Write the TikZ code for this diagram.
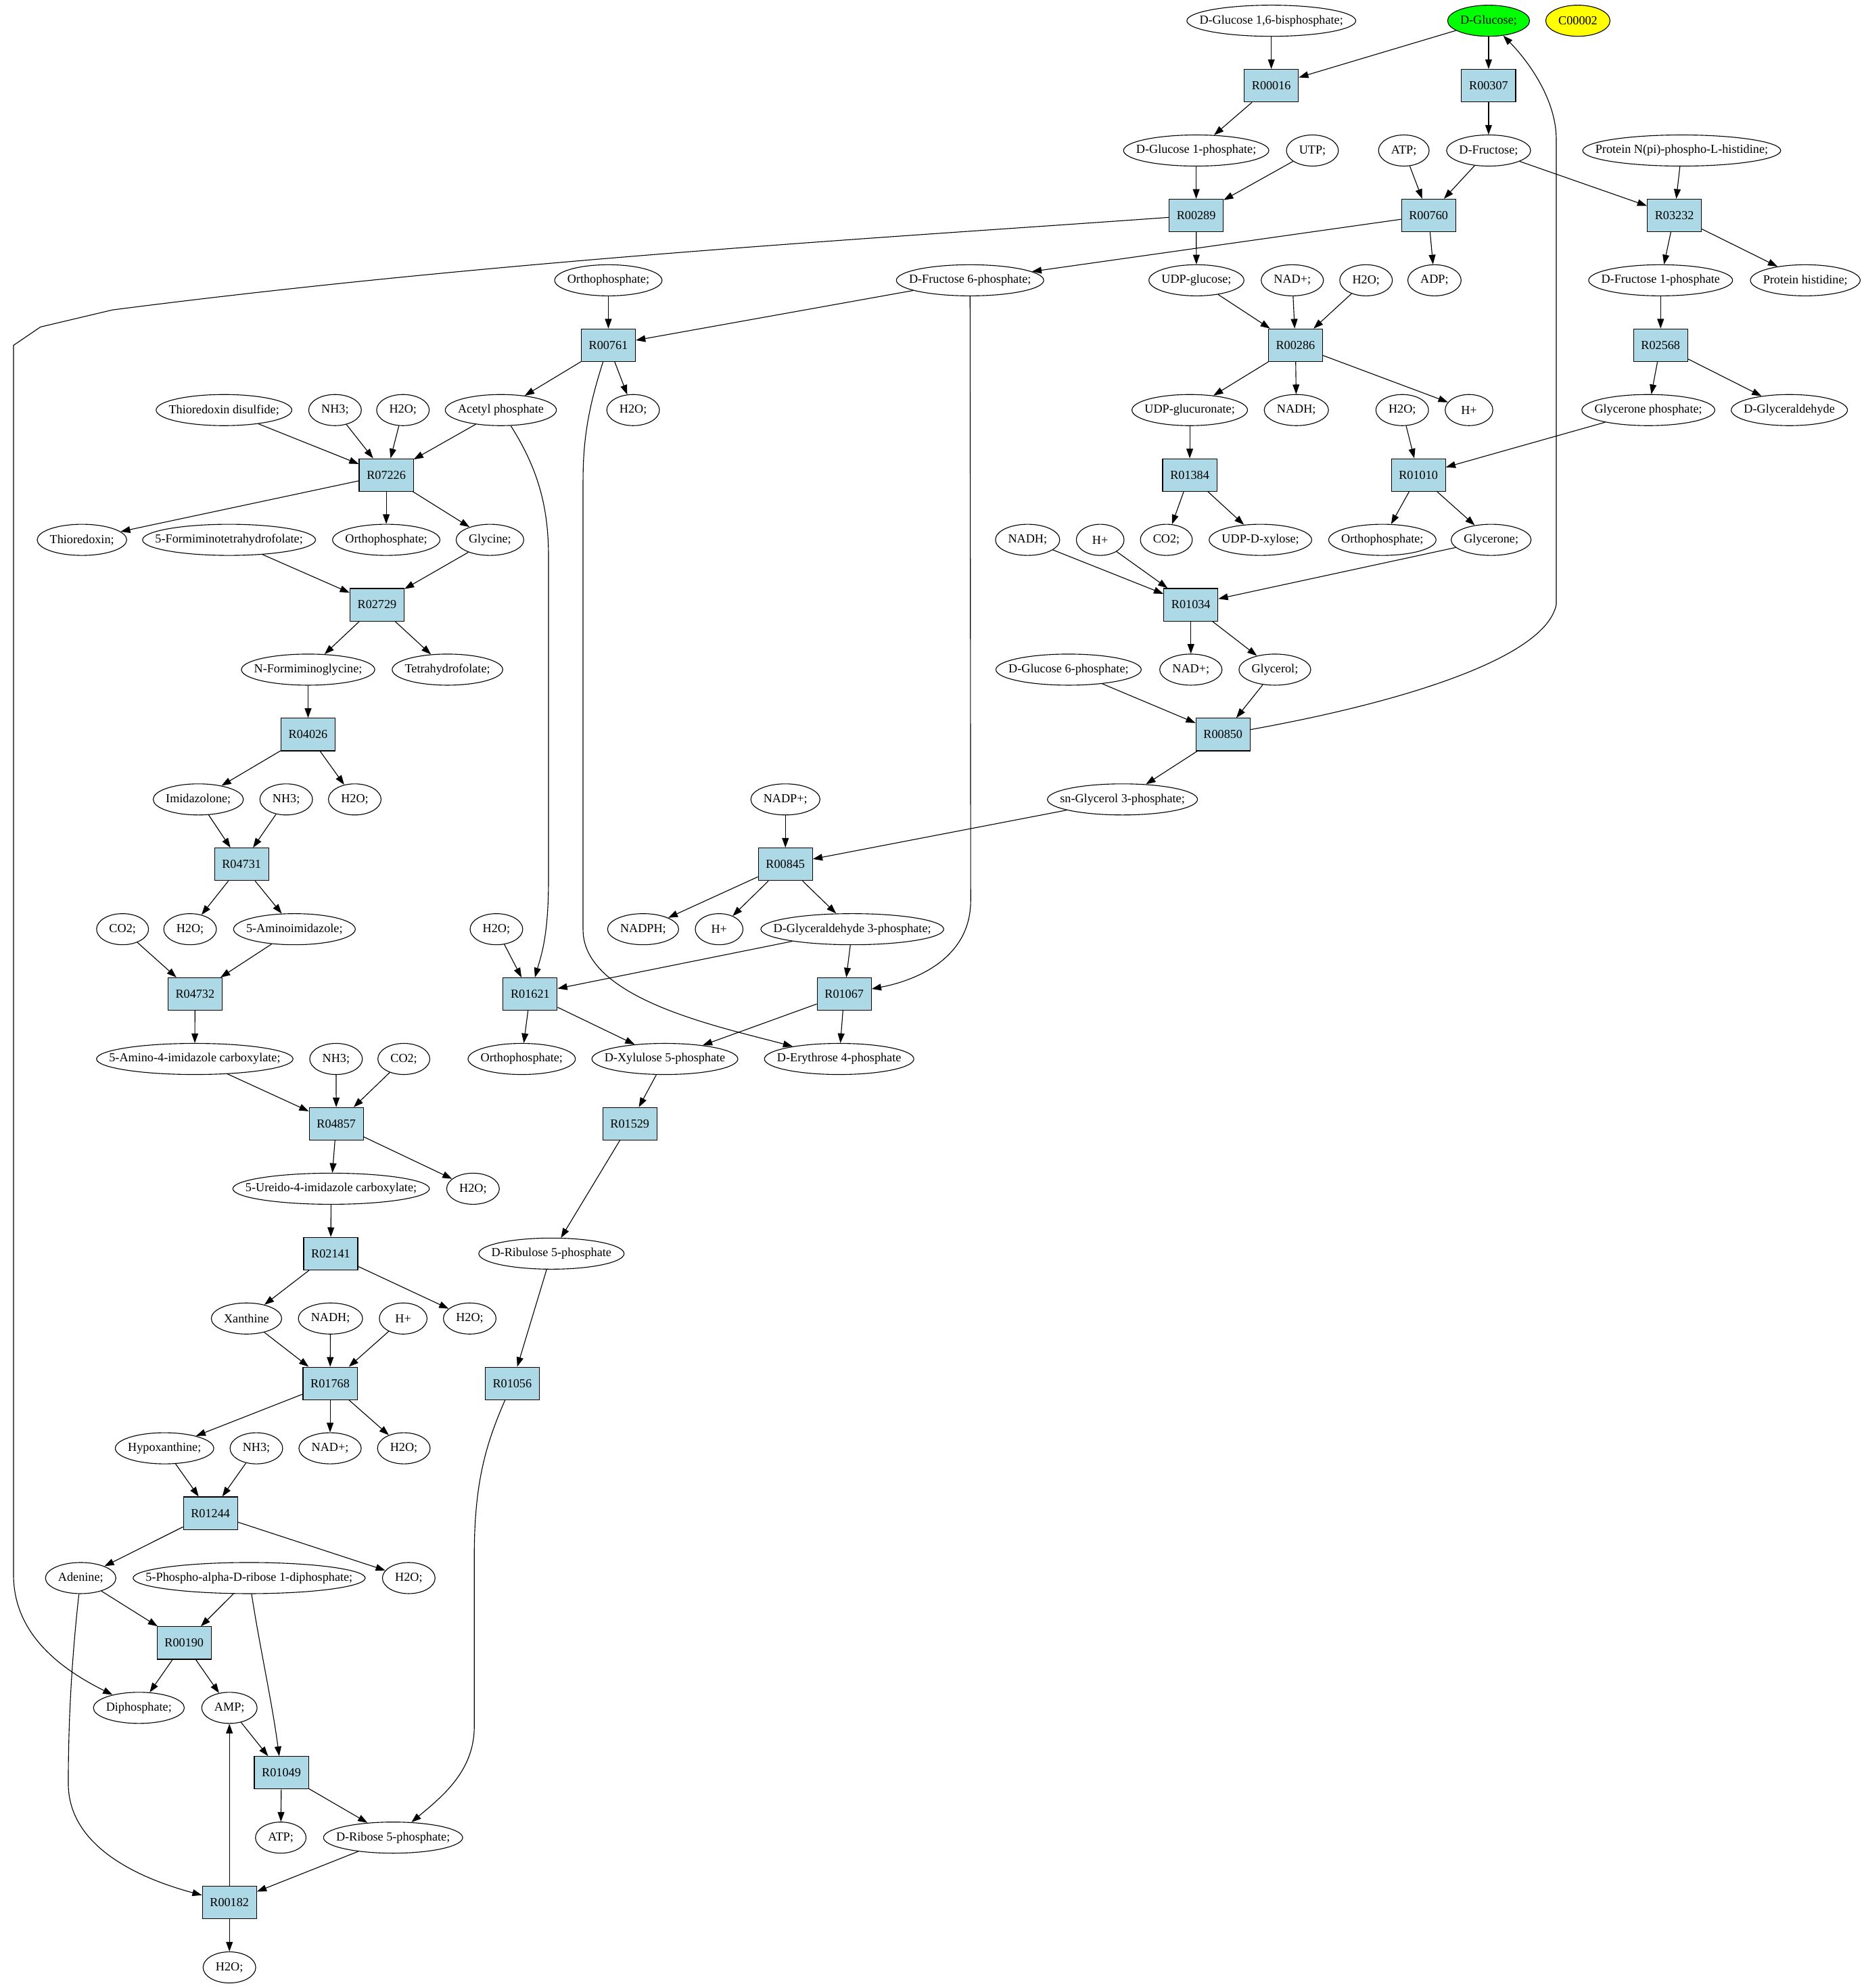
\documentclass[tikz,border=0pt]{standalone}
\usepackage{fontspec}
\setmainfont{Liberation Serif}
\usepackage{tikz}
\usepackage{xcolor}
\usetikzlibrary{arrows.meta}
\usetikzlibrary{shapes.geometric}
\font\cpdfont="Liberation Serif" at 7.3pt
\newlength{\cpdlen}
\newcommand{\cpd}[4][]{%
	\settowidth{\cpdlen}{\cpdfont #4}%
	\addtolength{\cpdlen}{15pt}%
	\ifdim\cpdlen<28.3pt \setlength{\cpdlen}{28.3pt}\fi
	\node [cpd,minimum width=\cpdlen,#1] (#2) at (#3) {\makebox[0pt]{#4}};}

\begin{document}
\begin{tikzpicture}[x=0.75pt,y=0.75pt,yscale=-1,xscale=1,line width=0.45pt,
	cpd/.style={ellipse,draw,inner sep=0pt,minimum height=18.45pt,font=\cpdfont},
	rxn/.style={rectangle,draw,fill={rgb, 255:red, 173; green, 216; blue, 230 },inner xsep=4.5pt,inner ysep=0pt,minimum height=19.3pt,font=\cpdfont},
	arr/.style={-{Triangle[length=5.7pt,width=4pt]}}]
	%set diagram to the size of the reference
	\useasboundingbox (0,0) rectangle (1473.8,1571.7);

	%Shape: Ellipse [compounds, top to bottom]
	\cpd{glc16bp}{1005.2,16.4}{D-Glucose 1,6-bisphosphate;}
	\cpd[fill={rgb, 255:red, 0; green, 255; blue, 0 }]{glc}{1177,16.4}{D-Glucose;}
	\cpd[fill={rgb, 255:red, 255; green, 255; blue, 0 }]{c00002}{1247.6,16.4}{C00002}
	\cpd{glc1p}{945.8,119}{D-Glucose 1-phosphate;}
	\cpd{utp}{1037.7,119}{UTP;}
	\cpd{atp}{1110,119}{ATP;}
	\cpd{fru}{1177,119}{D-Fructose;}
	\cpd{protnph}{1329.7,119}{Protein N(pi)-phospho-L-histidine;}
	\cpd{pi1}{481,221.6}{Orthophosphate;}
	\cpd{f6p}{767,221.6}{D-Fructose 6-phosphate;}
	\cpd{udpglc}{946,221.6}{UDP-glucose;}
	\cpd{nad1}{1021.8,221.6}{NAD+;}
	\cpd{h2o1}{1080.1,221.6}{H2O;}
	\cpd{adp}{1134.2,221.6}{ADP;}
	\cpd{f1p}{1313,221.6}{D-Fructose 1-phosphate}
	\cpd{prothis}{1427.4,221.6}{Protein histidine;}
	\cpd{trxss}{177.1,324.2}{Thioredoxin disulfide;}
	\cpd{nh3a}{264.9,324.2}{NH3;}
	\cpd{h2o2}{318.6,324.2}{H2O;}
	\cpd{acp}{396,324.2}{Acetyl phosphate}
	\cpd{h2o3}{500.6,324.2}{H2O;}
	\cpd{udpglca}{940.7,324.2}{UDP-glucuronate;}
	\cpd{nadh1}{1025,324.2}{NADH;}
	\cpd{h2o4}{1108.7,324.2}{H2O;}
	\cpd{hp1}{1161.5,324.2}{H+}
	\cpd{dhap}{1303.3,324.2}{Glycerone phosphate;}
	\cpd{glyald}{1414.8,324.2}{D-Glyceraldehyde}
	\cpd{trx}{64.8,426.8}{Thioredoxin;}
	\cpd{fthf}{181.1,426.8}{5-Formiminotetrahydrofolate;}
	\cpd{pi2}{305.4,426.8}{Orthophosphate;}
	\cpd{gly}{387.4,426.8}{Glycine;}
	\cpd{nadh2}{812.5,426.8}{NADH;}
	\cpd{hp2}{869.9,426.8}{H+}
	\cpd{co2a}{922.2,426.8}{CO2;}
	\cpd{udpxyl}{996.6,426.8}{UDP-D-xylose;}
	\cpd{pi3}{1093,426.8}{Orthophosphate;}
	\cpd{dha}{1179,426.8}{Glycerone;}
	\cpd{figly}{243.6,529.4}{N-Formiminoglycine;}
	\cpd{thf}{353.8,529.4}{Tetrahydrofolate;}
	\cpd{g6p}{844.9,529.4}{D-Glucose 6-phosphate;}
	\cpd{nad2}{941.6,529.4}{NAD+;}
	\cpd{glyc}{1008,529.4}{Glycerol;}
	\cpd{imz}{156.8,632}{Imidazolone;}
	\cpd{nh3b}{226.3,632}{NH3;}
	\cpd{h2o5}{280.5,632}{H2O;}
	\cpd{nadp}{621,632}{NADP+;}
	\cpd{g3p}{887.5,632}{sn-Glycerol 3-phosphate;}
	\cpd{co2b}{96.9,734.6}{CO2;}
	\cpd{h2o6}{150.3,734.6}{H2O;}
	\cpd{air}{232.8,734.6}{5-Aminoimidazole;}
	\cpd{h2o7}{392.5,734.6}{H2O;}
	\cpd{nadph}{508.5,734.6}{NADPH;}
	\cpd{hp3}{568.6,734.6}{H+}
	\cpd{gap}{673.9,734.6}{D-Glyceraldehyde 3-phosphate;}
	\cpd{aica}{154,837.2}{5-Amino-4-imidazole carboxylate;}
	\cpd{nh3c}{265.7,837.2}{NH3;}
	\cpd{co2c}{319.3,837.2}{CO2;}
	\cpd{pi4}{412.5,837.2}{Orthophosphate;}
	\cpd{xu5p}{525.7,837.2}{D-Xylulose 5-phosphate}
	\cpd{e4p}{663.5,837.2}{D-Erythrose 4-phosphate}
	\cpd{uica}{261.8,939.8}{5-Ureido-4-imidazole carboxylate;}
	\cpd{h2o8}{374,939.8}{H2O;}
	\cpd{ru5p}{436,991.1}{D-Ribulose 5-phosphate}
	\cpd{xan}{194.9,1042.4}{Xanthine}
	\cpd{nadh3}{261.3,1042.4}{NADH;}
	\cpd{hp4}{318.8,1042.4}{H+}
	\cpd{h2o9}{371.4,1042.4}{H2O;}
	\cpd{hyx}{130.1,1145}{Hypoxanthine;}
	\cpd{nh3d}{202.7,1145}{NH3;}
	\cpd{nad3}{261,1145}{NAD+;}
	\cpd{h2o10}{319.3,1145}{H2O;}
	\cpd{ade}{63.8,1247.6}{Adenine;}
	\cpd{prpp}{197,1247.6}{5-Phospho-alpha-D-ribose 1-diphosphate;}
	\cpd{h2o11}{323.2,1247.6}{H2O;}
	\cpd{ppi}{109.8,1350.2}{Diphosphate;}
	\cpd{amp}{181.4,1350.2}{AMP;}
	\cpd{atp2}{222,1452.8}{ATP;}
	\cpd{r5p}{310.8,1452.8}{D-Ribose 5-phosphate;}
	\cpd{h2o12}{181.4,1555.4}{H2O;}

	%Shape: Rectangle [reactions]
	\node [rxn] (r00016) at (1005.2,67.7) {R00016};
	\node [rxn] (r00307) at (1177,67.7) {R00307};
	\node [rxn] (r00289) at (945.8,170.3) {R00289};
	\node [rxn] (r00760) at (1129.5,170.3) {R00760};
	\node [rxn] (r03232) at (1323.9,170.3) {R03232};
	\node [rxn] (r00761) at (481,272.9) {R00761};
	\node [rxn] (r00286) at (1024.3,272.9) {R00286};
	\node [rxn] (r02568) at (1313,272.9) {R02568};
	\node [rxn] (r07226) at (305.4,375.5) {R07226};
	\node [rxn] (r01384) at (940.7,375.5) {R01384};
	\node [rxn] (r01010) at (1121.5,375.5) {R01010};
	\node [rxn] (r02729) at (298.1,478.1) {R02729};
	\node [rxn] (r01034) at (941.6,478.1) {R01034};
	\node [rxn] (r04026) at (243.6,580.7) {R04026};
	\node [rxn] (r00850) at (967,580.7) {R00850};
	\node [rxn] (r04731) at (191,683.3) {R04731};
	\node [rxn] (r00845) at (621,683.3) {R00845};
	\node [rxn] (r04732) at (154.2,785.9) {R04732};
	\node [rxn] (r01621) at (419.2,785.9) {R01621};
	\node [rxn] (r01067) at (667.5,785.9) {R01067};
	\node [rxn] (r04857) at (265.9,888.5) {R04857};
	\node [rxn] (r01529) at (498,888.5) {R01529};
	\node [rxn] (r02141) at (261.5,991.1) {R02141};
	\node [rxn] (r01768) at (261,1093.7) {R01768};
	\node [rxn] (r01056) at (405,1093.7) {R01056};
	\node [rxn] (r01244) at (166.4,1196.3) {R01244};
	\node [rxn] (r00190) at (145.6,1298.9) {R00190};
	\node [rxn] (r01049) at (222.5,1401.5) {R01049};
	\node [rxn] (r00182) at (181.4,1504.1) {R00182};

	%Straight Lines
	\draw [arr] (glc16bp) -- (r00016) ;
	\draw [arr] (glc) -- (r00016) ;
	\draw [arr] (glc) -- (r00307) ;
	\draw [arr] (r00016) -- (glc1p) ;
	\draw [arr] (r00307) -- (fru) ;
	\draw [arr] (glc1p) -- (r00289) ;
	\draw [arr] (utp) -- (r00289) ;
	\draw [arr] (atp) -- (r00760) ;
	\draw [arr] (fru) -- (r00760) ;
	\draw [arr] (fru) -- (r03232) ;
	\draw [arr] (protnph) -- (r03232) ;
	\draw [arr] (r00289) -- (udpglc) ;
	\draw [arr] (r00760) -- (f6p) ;
	\draw [arr] (r00760) -- (adp) ;
	\draw [arr] (r03232) -- (f1p) ;
	\draw [arr] (r03232) -- (prothis) ;
	\draw [arr] (pi1) -- (r00761) ;
	\draw [arr] (f6p) -- (r00761) ;
	\draw [arr] (udpglc) -- (r00286) ;
	\draw [arr] (nad1) -- (r00286) ;
	\draw [arr] (h2o1) -- (r00286) ;
	\draw [arr] (f1p) -- (r02568) ;
	\draw [arr] (r00761) -- (acp) ;
	\draw [arr] (r00761) -- (h2o3) ;
	\draw [arr] (r00286) -- (udpglca) ;
	\draw [arr] (r00286) -- (nadh1) ;
	\draw [arr] (r00286) -- (hp1) ;
	\draw [arr] (r02568) -- (dhap) ;
	\draw [arr] (r02568) -- (glyald) ;
	\draw [arr] (trxss) -- (r07226) ;
	\draw [arr] (nh3a) -- (r07226) ;
	\draw [arr] (h2o2) -- (r07226) ;
	\draw [arr] (acp) -- (r07226) ;
	\draw [arr] (udpglca) -- (r01384) ;
	\draw [arr] (h2o4) -- (r01010) ;
	\draw [arr] (dhap) -- (r01010) ;
	\draw [arr] (r07226) -- (trx) ;
	\draw [arr] (r07226) -- (pi2) ;
	\draw [arr] (r07226) -- (gly) ;
	\draw [arr] (r01384) -- (co2a) ;
	\draw [arr] (r01384) -- (udpxyl) ;
	\draw [arr] (r01010) -- (pi3) ;
	\draw [arr] (r01010) -- (dha) ;
	\draw [arr] (fthf) -- (r02729) ;
	\draw [arr] (gly) -- (r02729) ;
	\draw [arr] (nadh2) -- (r01034) ;
	\draw [arr] (hp2) -- (r01034) ;
	\draw [arr] (dha) -- (r01034) ;
	\draw [arr] (r02729) -- (figly) ;
	\draw [arr] (r02729) -- (thf) ;
	\draw [arr] (r01034) -- (nad2) ;
	\draw [arr] (r01034) -- (glyc) ;
	\draw [arr] (figly) -- (r04026) ;
	\draw [arr] (g6p) -- (r00850) ;
	\draw [arr] (glyc) -- (r00850) ;
	\draw [arr] (r00850) -- (g3p) ;
	\draw [arr] (r04026) -- (imz) ;
	\draw [arr] (r04026) -- (h2o5) ;
	\draw [arr] (imz) -- (r04731) ;
	\draw [arr] (nh3b) -- (r04731) ;
	\draw [arr] (nadp) -- (r00845) ;
	\draw [arr] (g3p) -- (r00845) ;
	\draw [arr] (r04731) -- (h2o6) ;
	\draw [arr] (r04731) -- (air) ;
	\draw [arr] (r00845) -- (nadph) ;
	\draw [arr] (r00845) -- (hp3) ;
	\draw [arr] (r00845) -- (gap) ;
	\draw [arr] (co2b) -- (r04732) ;
	\draw [arr] (air) -- (r04732) ;
	\draw [arr] (h2o7) -- (r01621) ;
	\draw [arr] (gap) -- (r01621) ;
	\draw [arr] (gap) -- (r01067) ;
	\draw [arr] (r04732) -- (aica) ;
	\draw [arr] (r01621) -- (pi4) ;
	\draw [arr] (r01621) -- (xu5p) ;
	\draw [arr] (r01067) -- (xu5p) ;
	\draw [arr] (r01067) -- (e4p) ;
	\draw [arr] (aica) -- (r04857) ;
	\draw [arr] (nh3c) -- (r04857) ;
	\draw [arr] (co2c) -- (r04857) ;
	\draw [arr] (xu5p) -- (r01529) ;
	\draw [arr] (r04857) -- (uica) ;
	\draw [arr] (r04857) -- (h2o8) ;
	\draw [arr] (r01529) -- (ru5p) ;
	\draw [arr] (uica) -- (r02141) ;
	\draw [arr] (ru5p) -- (r01056) ;
	\draw [arr] (r02141) -- (xan) ;
	\draw [arr] (r02141) -- (h2o9) ;
	\draw [arr] (xan) -- (r01768) ;
	\draw [arr] (nadh3) -- (r01768) ;
	\draw [arr] (hp4) -- (r01768) ;
	\draw [arr] (r01768) -- (hyx) ;
	\draw [arr] (r01768) -- (nad3) ;
	\draw [arr] (r01768) -- (h2o10) ;
	\draw [arr] (hyx) -- (r01244) ;
	\draw [arr] (nh3d) -- (r01244) ;
	\draw [arr] (r01244) -- (ade) ;
	\draw [arr] (r01244) -- (h2o11) ;
	\draw [arr] (ade) -- (r00190) ;
	\draw [arr] (prpp) -- (r00190) ;
	\draw [arr] (r00190) -- (ppi) ;
	\draw [arr] (r00190) -- (amp) ;
	\draw [arr] (amp) -- (r01049) ;
	\draw [arr] (r01049) -- (atp2) ;
	\draw [arr] (r01049) -- (r5p) ;
	\draw [arr] (r5p) -- (r00182) ;
	\draw [arr] (r00182) -- (amp) ;
	\draw [arr] (r00182) -- (h2o12) ;

	%Curve Lines
	\draw [arr] (r00289) .. controls (700,188) and (400,205) .. (89,245) -- (32,258.5) -- (10.7,273) -- (10.7,1245) .. controls (10.7,1290) and (45,1318) .. (ppi) ;
	\draw [arr] (f6p) -- (767.5,712) .. controls (767.5,760) and (720,776) .. (r01067) ;
	\draw [arr] (r00761) .. controls (466,320) and (461,345) .. (461,380) -- (461,735) .. controls (461,790) and (570,812) .. (e4p) ;
	\draw [arr] (acp) .. controls (425,370) and (433.7,400) .. (433.7,440) -- (433.7,695) .. controls (433.7,740) and (428,755) .. (r01621) ;
	\draw [arr] (r00850) .. controls (1110,555) and (1222,520) .. (1230.5,478) -- (1230.5,110) .. controls (1230.5,80) and (1210,50) .. (glc) ;
	\draw [arr] (r01056) .. controls (385,1140) and (375,1170) .. (375,1230) -- (375,1365) .. controls (375,1400) and (350,1420) .. (r5p) ;
	\draw [arr] (ade) .. controls (58,1300) and (54,1350) .. (54,1410) .. controls (54,1460) and (110,1485) .. (r00182) ;
	\draw [arr] (prpp) .. controls (205,1300) and (215,1345) .. (r01049) ;

\end{tikzpicture}
\end{document}
